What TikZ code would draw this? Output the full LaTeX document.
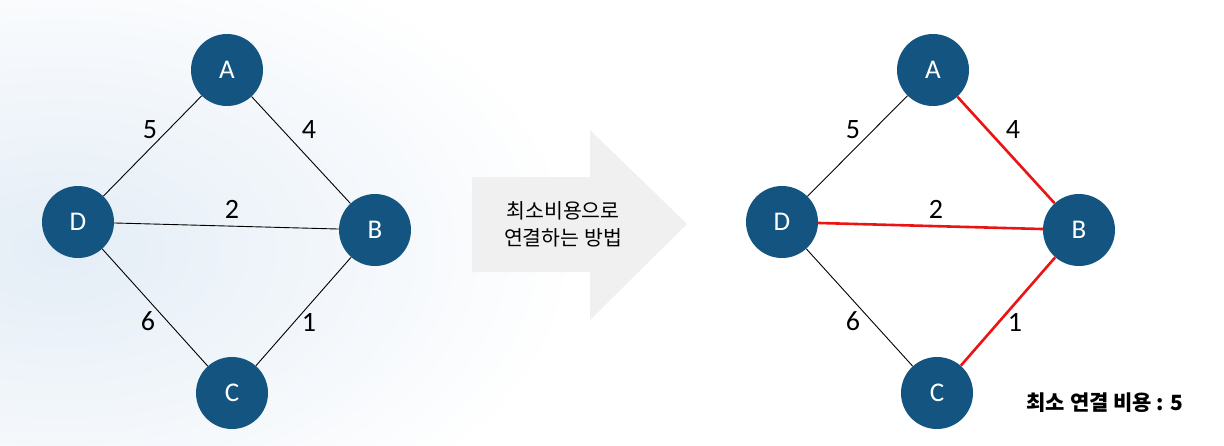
\documentclass[tikz,border=0pt]{standalone}
\usepackage{fontspec}
\setmainfont{Carlito}
\newfontfamily\cjk{Noto Sans CJK KR}
\definecolor{nodeblue}{RGB}{19,84,128}
\definecolor{bgblue}{RGB}{228,237,246}
\definecolor{arrowgray}{RGB}{240,240,240}
\definecolor{edgered}{RGB}{235,20,20}
\tikzset{
  vert/.style={circle, fill=nodeblue, minimum size=72pt, inner sep=0pt, text=white, font=\fontsize{27}{30}\selectfont},
  wlabel/.style={font=\fontsize{28}{30}\selectfont, text=black, inner sep=0pt},
  edge/.style={draw=black, line width=0.9pt},
  redge/.style={draw=edgered, line width=2.6pt},
}
\begin{document}
\begin{tikzpicture}[x=1pt,y=-1pt]
\useasboundingbox (0,0) rectangle (1224,445);
\fill[white] (0,0) rectangle (1224,445);
\shade[inner color=bgblue, outer color=white] (60,250) ellipse [x radius=520, y radius=320];
% left graph
\node[vert] (A) at (227,70) {A};
\node[vert] (D) at (78,222) {D};
\node[vert] (B) at (375,230) {B};
\node[vert] (C) at (232,393) {C};
\draw[edge] (A) -- (D);
\draw[edge] (A) -- (B);
\draw[edge] (D) -- (B);
\draw[edge] (D) -- (C);
\draw[edge] (C) -- (B);
\node[wlabel] (l5) at (150,130) {5};
\node[wlabel] (l4) at (309,130) {4};
\node[wlabel] (l2) at (232,209) {2};
\node[wlabel] (l6) at (148,321) {6};
\node[wlabel] (l1) at (309,322) {1};
% arrow
\fill[arrowgray] (472,177) -- (590,177) -- (590,130) -- (687,224) -- (590,320) -- (590,272) -- (472,272) -- cycle;
\node[align=center, font=\cjk\fontsize{20.5}{27}\selectfont, inner sep=0pt] (arrowtext) at (563,224) {최소비용으로\\연결하는 방법};
% right graph
\node[vert] (A2) at (933,70) {A};
\node[vert] (D2) at (782,222) {D};
\node[vert] (B2) at (1079,230) {B};
\node[vert] (C2) at (937,393) {C};
\draw[edge] (A2) -- (D2);
\draw[redge] (A2) -- (B2);
\draw[redge] (D2) -- (B2);
\draw[edge] (D2) -- (C2);
\draw[redge] (C2) -- (B2);
\node[wlabel] (r5) at (853,130) {5};
\node[wlabel] (r4) at (1013,130) {4};
\node[wlabel] (r2) at (936,209) {2};
\node[wlabel] (r6) at (853,321) {6};
\node[wlabel] (r1) at (1015,322) {1};
\node[font=\cjk\bfseries\fontsize{21}{24}\selectfont, inner sep=0pt] (cost) at (1105,403) {최소 연결 비용 : 5};
\end{tikzpicture}
\end{document}
